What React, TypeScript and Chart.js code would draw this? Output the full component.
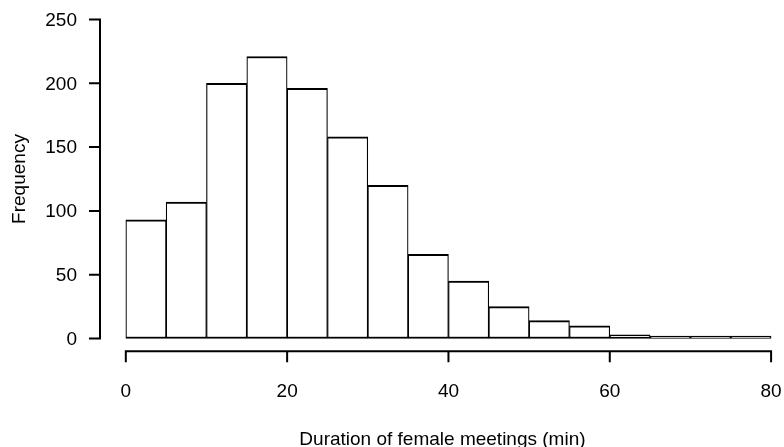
import React, { useEffect, useRef } from "react";
import { Chart, registerables } from "chart.js";

Chart.register(...registerables);

// Histogram bins (minutes) and counts
const binStarts = [0, 5, 10, 15, 20, 25, 30, 35, 40, 45, 50, 55, 60, 65, 70, 75];
const binWidth = 5;
const frequency = [93, 107, 200, 221, 196, 158, 120, 66, 45, 25, 14, 10, 3, 1, 1, 1];

const xTicks = [0, 20, 40, 60, 80];
const yTicks = [0, 50, 100, 150, 200, 250];

const xTitle = "Duration of female meetings (min)";
const yTitle = "Frequency";

const FONT = "19px 'Liberation Sans', Arial, Helvetica, sans-serif";

const rAxesPlugin = {
  id: "rAxes",
  afterDraw(chart: any) {
    const ctx = chart.ctx as CanvasRenderingContext2D;
    const xs = chart.scales.x;
    const ys = chart.scales.y;
    const area = chart.chartArea;
    ctx.save();
    ctx.strokeStyle = "#000";
    ctx.fillStyle = "#000";
    ctx.lineWidth = 2;
    ctx.lineCap = "butt";
    ctx.font = FONT;

    // Y axis (at left edge of plot region)
    const axX = area.left;
    const y0 = ys.getPixelForValue(yTicks[0]);
    const y1 = ys.getPixelForValue(yTicks[yTicks.length - 1]);
    ctx.beginPath();
    ctx.moveTo(axX, y0 + 1);
    ctx.lineTo(axX, y1 - 1);
    yTicks.forEach((t) => {
      const py = ys.getPixelForValue(t);
      ctx.moveTo(axX, py);
      ctx.lineTo(axX - 11, py);
    });
    ctx.stroke();
    ctx.textAlign = "right";
    ctx.textBaseline = "middle";
    yTicks.forEach((t) => {
      const py = ys.getPixelForValue(t);
      ctx.fillText(String(t), axX - 23, py + 1);
    });

    // X axis (at bottom edge of plot region)
    const axY = area.bottom;
    const x0 = xs.getPixelForValue(xTicks[0]);
    const x1 = xs.getPixelForValue(xTicks[xTicks.length - 1]);
    ctx.beginPath();
    ctx.moveTo(x0 - 1, axY);
    ctx.lineTo(x1 + 1, axY);
    xTicks.forEach((t) => {
      const px = xs.getPixelForValue(t);
      ctx.moveTo(px, axY);
      ctx.lineTo(px, axY + 11);
    });
    ctx.stroke();
    ctx.textAlign = "center";
    ctx.textBaseline = "middle";
    xTicks.forEach((t) => {
      const px = xs.getPixelForValue(t);
      ctx.fillText(String(t), px, axY + 40);
    });

    // Axis titles
    ctx.textBaseline = "alphabetic";
    ctx.fillText(xTitle, (x0 + x1) / 2 - 6, 445);
    ctx.save();
    ctx.translate(25, (y0 + y1) / 2);
    ctx.rotate(-Math.PI / 2);
    ctx.textAlign = "center";
    ctx.textBaseline = "alphabetic";
    ctx.fillText(yTitle, 0, 0);
    ctx.restore();

    ctx.restore();
  },
};

export default function App() {
  const canvasRef = useRef<HTMLCanvasElement | null>(null);

  useEffect(() => {
    const canvas = canvasRef.current;
    if (!canvas) return;
    const data = binStarts.map((s, i) => ({ x: s + binWidth / 2, y: frequency[i] }));
    const chart = new Chart(canvas, {
      type: "bar",
      data: {
        datasets: [
          {
            data: data as any,
            backgroundColor: "#ffffff",
            borderColor: "#000000",
            borderWidth: { top: 2, bottom: 2, left: 1.2, right: 1.2 } as any,
            borderSkipped: false,
            barPercentage: 1,
            categoryPercentage: 1,
            minBarLength: 2.5,
          },
        ],
      },
      options: {
        animation: false,
        responsive: false,
        devicePixelRatio: 1,
        layout: { padding: { left: 100, right: 0, top: 6.7, bottom: 95.7 } },
        plugins: {
          legend: { display: false },
          tooltip: { enabled: false },
        },
        scales: {
          x: {
            type: "linear",
            display: false,
            min: -3.2,
            max: 81.6,
            offset: false,
          },
          y: {
            type: "linear",
            display: false,
            min: -10,
            max: 260,
          },
        },
      },
      plugins: [rAxesPlugin],
    });
    return () => chart.destroy();
  }, []);

  return (
    <div style={{ position: "absolute", left: 0, top: 0, width: 784, height: 447, background: "#fff" }}>
      <canvas ref={canvasRef} width={784} height={447} style={{ width: 784, height: 447, display: "block" }} />
    </div>
  );
}
